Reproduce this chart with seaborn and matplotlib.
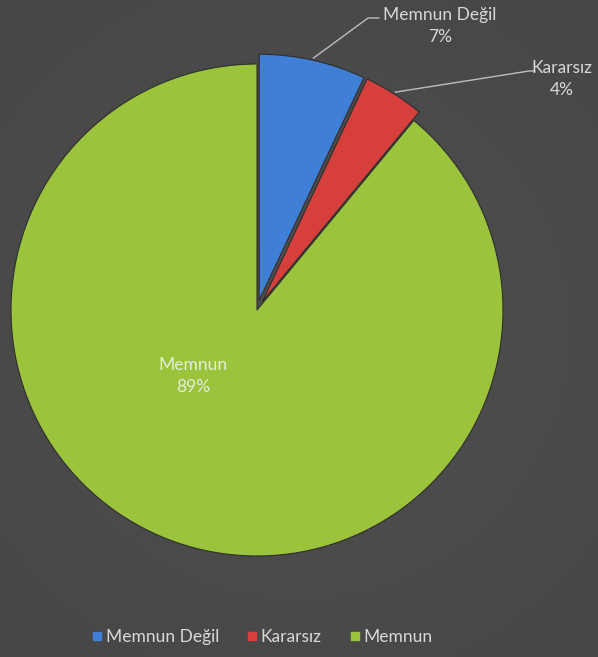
import numpy as np
import matplotlib.pyplot as plt
import seaborn as sns
from matplotlib.lines import Line2D

# data
categories = ["Memnun Değil", "Kararsız", "Memnun"]
shares = [7, 4, 89]
colors = ["#3f7fd6", "#d63f3b", "#9bc33c"]

W, H = 598, 657
BG = "#4a4a4a"
TXT = "#d9d9d9"

sns.set_theme(style="dark")
plt.rcParams["font.family"] = ["Lato", "DejaVu Sans"]

fig = plt.figure(figsize=(W / 100, H / 100), dpi=100, facecolor=BG)
ax = fig.add_axes([0, 0, 1, 1])
ax.set_facecolor(BG)

# very soft radial background glow
yy, xx = np.mgrid[0:H, 0:W]
glow = np.hypot((xx - 300) / 450, (yy - 330) / 450)
ax.imshow(np.clip(glow, 0, 1), cmap=sns.blend_palette(["#505050", "#464646"], as_cmap=True),
          extent=(0, W, 0, H), origin="upper", zorder=0, vmin=0, vmax=1)

cx, cy, R = 257, H - 310, 246
# explode is in data units here (pixels), since radius is in pixels
wedges, _ = ax.pie(shares, colors=colors, explode=[10, 10, 0], startangle=90, counterclock=False,
                   center=(cx, cy), radius=R, frame=True,
                   wedgeprops=dict(edgecolor="#2e2e2e", linewidth=0.8))
for w in wedges:
    w.set_zorder(2)

ax.set_xlim(0, W)
ax.set_ylim(0, H)
ax.set_aspect("equal")
ax.axis("off")

def outer_point(w, extra=2):
    t = np.deg2rad((w.theta1 + w.theta2) / 2)
    ccx, ccy = w.center
    return ccx + (w.r + extra) * np.cos(t), ccy + (w.r + extra) * np.sin(t)

# outside labels with leader lines
outside = {0: (440, H - 26, 368, H - 18, 379), 1: (562, H - 79, 529, H - 71, 535)}
for i, (tx, ty, ex, ey, hx) in outside.items():
    px, py = outer_point(wedges[i])
    ax.plot([px, ex, hx], [py, ey, ey], color="#bdbdbd", lw=1, zorder=3)
    ax.text(tx, ty, f"{categories[i]}\n{shares[i]}%", color=TXT, fontsize=12.5,
            ha="center", va="center", linespacing=1.4, zorder=4)

ax.text(193, H - 376, f"{categories[2]}\n{shares[2]}%", color="#e6eed8", fontsize=12.5,
        ha="center", va="center", linespacing=1.4, zorder=4)

handles = [Line2D([], [], marker="s", ls="", markersize=6, markerfacecolor=c,
                  markeredgecolor=c) for c in colors]
fig.legend(handles, categories, loc="lower center", bbox_to_anchor=(0.437, -0.006), ncol=3,
           frameon=False, fontsize=12.5, labelcolor=TXT, handletextpad=0.1,
           columnspacing=1.5, handlelength=0.8)

fig.savefig("out.png", dpi=100, facecolor=BG)
